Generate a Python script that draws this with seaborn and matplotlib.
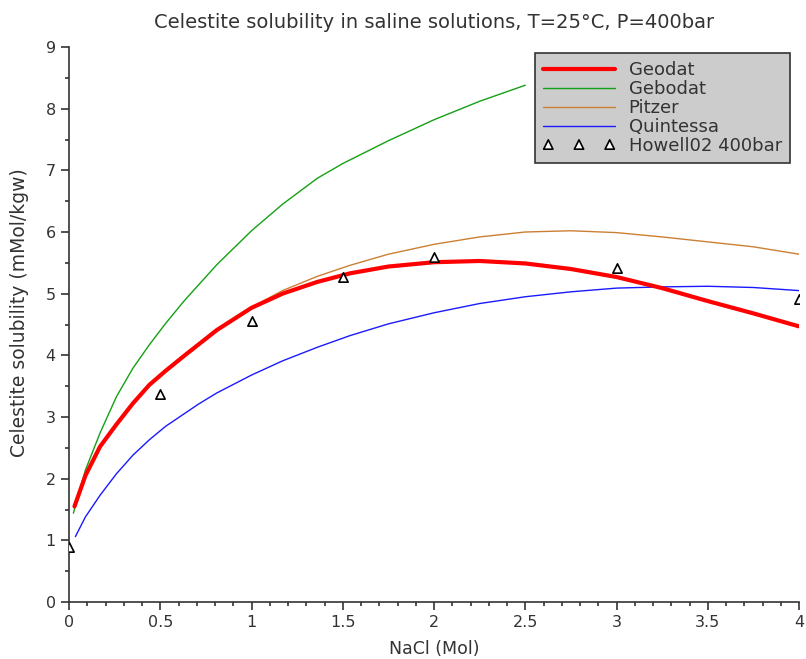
import matplotlib
matplotlib.use("Agg")
import matplotlib.pyplot as plt
import seaborn as sns
from matplotlib.ticker import MultipleLocator

# NaCl molality and model solubilities (mMol/kgw)
geodat_x = [0.03, 0.09, 0.17, 0.26, 0.35, 0.44, 0.53, 0.63, 0.81, 1.0, 1.17, 1.36, 1.54, 1.75,
            2.0, 2.25, 2.5, 2.75, 3.0, 3.25, 3.5, 3.75, 4.0]
geodat_y = [1.55, 2.05, 2.52, 2.88, 3.22, 3.52, 3.75, 3.99, 4.41, 4.77, 5.0, 5.19, 5.33, 5.44,
            5.51, 5.53, 5.49, 5.40, 5.27, 5.09, 4.88, 4.68, 4.47]

gebodat_x = [0.024, 0.09, 0.17, 0.26, 0.35, 0.44, 0.53, 0.63, 0.81, 1.0, 1.17, 1.36, 1.5, 1.75,
             2.0, 2.25, 2.5]
gebodat_y = [1.44, 2.14, 2.74, 3.33, 3.79, 4.17, 4.52, 4.88, 5.47, 6.02, 6.45, 6.87, 7.11, 7.48,
             7.82, 8.12, 8.38]

pitzer_x = [0.03, 0.09, 0.17, 0.26, 0.35, 0.44, 0.53, 0.63, 0.81, 1.0, 1.17, 1.36, 1.54, 1.75,
            2.0, 2.25, 2.5, 2.75, 3.0, 3.25, 3.5, 3.75, 4.0]
pitzer_y = [1.55, 2.05, 2.52, 2.88, 3.22, 3.52, 3.75, 3.99, 4.41, 4.78, 5.05, 5.28, 5.46, 5.64,
            5.80, 5.92, 6.00, 6.02, 5.99, 5.92, 5.84, 5.76, 5.64]

quintessa_x = [0.035, 0.09, 0.17, 0.26, 0.35, 0.44, 0.53, 0.71, 0.81, 1.0, 1.17, 1.36, 1.54, 1.75,
               2.0, 2.25, 2.5, 2.75, 3.0, 3.25, 3.5, 3.75, 4.0]
quintessa_y = [1.06, 1.38, 1.73, 2.08, 2.38, 2.63, 2.85, 3.21, 3.39, 3.68, 3.91, 4.13, 4.32, 4.51,
               4.69, 4.84, 4.95, 5.03, 5.09, 5.11, 5.12, 5.10, 5.05]

howell_x = [0.0, 0.5, 1.0, 1.5, 2.0, 3.0, 4.0]
howell_y = [0.9, 3.38, 4.56, 5.27, 5.6, 5.42, 4.92]

sns.set_theme(style="ticks")
plt.rcParams['font.family'] = ['DejaVu Sans']
text_color = '#333333'

fig = plt.figure(figsize=(8.06, 6.59), dpi=100)
ax = fig.add_axes([69 / 806, 1 - 602 / 659, 730 / 806, 555 / 659])

sns.lineplot(x=geodat_x, y=geodat_y, color='#ff0000', linewidth=3.0, label='Geodat', ax=ax, zorder=5)
sns.lineplot(x=gebodat_x, y=gebodat_y, color='#14a014', linewidth=1.0, label='Gebodat', ax=ax, zorder=3)
sns.lineplot(x=pitzer_x, y=pitzer_y, color='#cc7f33', linewidth=1.0, label='Pitzer', ax=ax, zorder=3)
sns.lineplot(x=quintessa_x, y=quintessa_y, color='#1a1aff', linewidth=1.0, label='Quintessa', ax=ax, zorder=3)
sns.scatterplot(x=howell_x, y=howell_y, marker='^', s=45, facecolor='white', edgecolor='black',
                linewidth=1.2, label='Howell02 400bar', ax=ax, zorder=6)

ax.set_xlim(0, 4)
ax.set_ylim(0, 9)
ax.set_xticks([0, 0.5, 1, 1.5, 2, 2.5, 3, 3.5, 4])
ax.set_xticklabels(['0', '0.5', '1', '1.5', '2', '2.5', '3', '3.5', '4'])
ax.xaxis.set_minor_locator(MultipleLocator(0.1))
ax.yaxis.set_major_locator(MultipleLocator(1))
ax.yaxis.set_minor_locator(MultipleLocator(0.5))
ax.tick_params(which='major', length=6, width=1.2, color=text_color, labelsize=11.5, labelcolor=text_color)
ax.tick_params(which='minor', length=3, width=1.2, color=text_color)
for side in ['top', 'right']:
    ax.spines[side].set_visible(False)
for side in ['left', 'bottom']:
    ax.spines[side].set_color(text_color)
    ax.spines[side].set_linewidth(1.2)

ax.set_xlabel('NaCl (Mol)', fontsize=12.5, color=text_color)
ax.xaxis.set_label_coords(0.5, -0.069)
ax.set_ylabel('Celestite solubility (mMol/kgw)', fontsize=13.5, color=text_color)
ax.yaxis.set_label_coords(-0.055, 0.522)
ax.set_title('Celestite solubility in saline solutions, T=25°C, P=400bar', fontsize=14,
             color=text_color, pad=14)

leg = ax.legend(loc='upper right', bbox_to_anchor=(0.9877, 0.989), fontsize=13, scatterpoints=3,
                scatteryoffsets=[0.5], handlelength=4.0, handletextpad=0.75, labelspacing=0.05,
                borderpad=0.45, borderaxespad=0, fancybox=False, framealpha=1,
                facecolor='#cccccc', edgecolor=text_color)
leg.get_frame().set_linewidth(1.2)
for t in leg.get_texts():
    t.set_color(text_color)

fig.savefig('out.png', dpi=100)
